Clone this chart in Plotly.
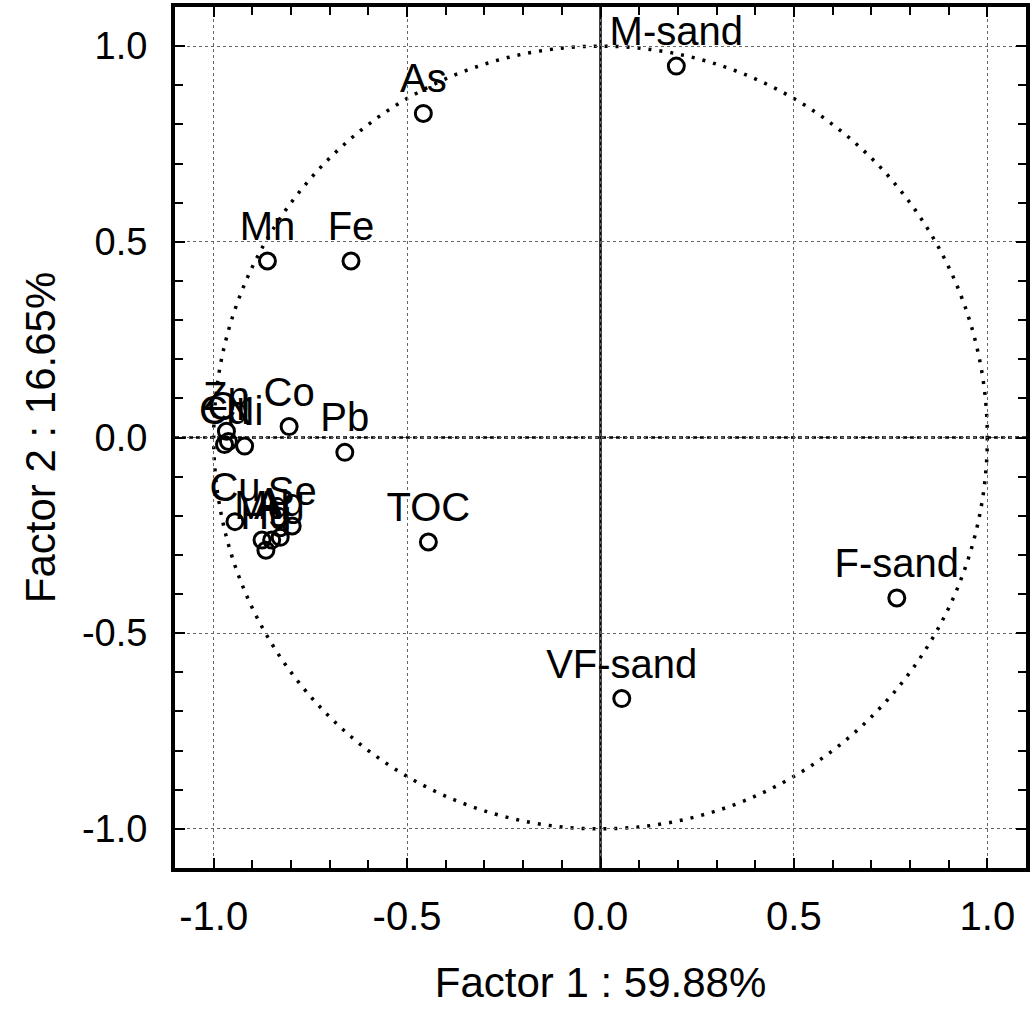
import plotly.graph_objects as go

# Factor loadings (Factor 1, Factor 2) for each variable
variables = ["M-sand", "As", "Mn", "Fe", "Zn", "Cd", "Cr", "Ni", "Co", "Pb",
             "Cu", "Se", "Mg", "Al", "Ag", "Hg", "TOC", "F-sand", "VF-sand"]
factor1 = [0.196, -0.458, -0.861, -0.645, -0.967, -0.972, -0.962, -0.920, -0.805, -0.661,
           -0.945, -0.797, -0.875, -0.850, -0.828, -0.865, -0.445, 0.766, 0.055]
factor2 = [0.949, 0.828, 0.451, 0.451, 0.016, -0.018, -0.010, -0.022, 0.028, -0.038,
           -0.215, -0.226, -0.262, -0.262, -0.255, -0.288, -0.267, -0.410, -0.667]

tick_vals = [-1.0, -0.5, 0.0, 0.5, 1.0]
tick_text = ["-1.0", "-0.5", "0.0", "0.5", "1.0"]

x_title = "Factor 1 : 59.88%"
y_title = "Factor 2 : 16.65%"

FONT = "Liberation Sans, Arial, sans-serif"

fig = go.Figure()

fig.add_trace(go.Scatter(
    x=factor1, y=factor2, mode="markers+text",
    text=variables, textposition="top center",
    textfont=dict(family=FONT, size=40, color="black"),
    marker=dict(symbol="circle-open", size=16, color="black",
                line=dict(width=3, color="black")),
    cliponaxis=False, showlegend=False,
))

# unit circle of the correlation plot
fig.add_shape(type="circle", xref="x", yref="y", x0=-1, y0=-1, x1=1, y1=1,
              line=dict(color="black", width=3.5, dash="3px,8px"), layer="below")
# origin lines
fig.add_shape(type="line", xref="x", yref="paper", x0=0, x1=0, y0=0, y1=1,
              line=dict(color="black", width=2.5), layer="below")
fig.add_shape(type="line", xref="paper", yref="y", x0=0, x1=1, y0=0, y1=0,
              line=dict(color="black", width=2.5, dash="4px,3px"), layer="below")

axis_common = dict(
    range=[-1.1, 1.1], tickvals=tick_vals, ticktext=tick_text,
    ticks="inside", ticklen=10, tickwidth=2, tickcolor="black",
    minor=dict(dtick=0.1, ticks="inside", ticklen=8, tickwidth=2, tickcolor="black"),
    showline=True, linewidth=4, linecolor="black", mirror="ticks",
    showgrid=True, gridcolor="#666666", gridwidth=1, griddash="dot",
    zeroline=False,
)

fig.update_xaxes(**axis_common, ticklabelstandoff=10,
                 tickfont=dict(family=FONT, size=40, color="black"),
                 title=dict(text=x_title, font=dict(family=FONT, size=42, color="black"),
                            standoff=32))
fig.update_yaxes(**axis_common, ticklabelstandoff=16,
                 tickfont=dict(family=FONT, size=38, color="black"),
                 title=dict(text=y_title, font=dict(family=FONT, size=42, color="black"),
                            standoff=14))

fig.update_layout(
    width=1033, height=1012,
    margin=dict(l=175, r=3, t=5, b=144),
    plot_bgcolor="white", paper_bgcolor="white",
)

fig.write_html("out.html")
